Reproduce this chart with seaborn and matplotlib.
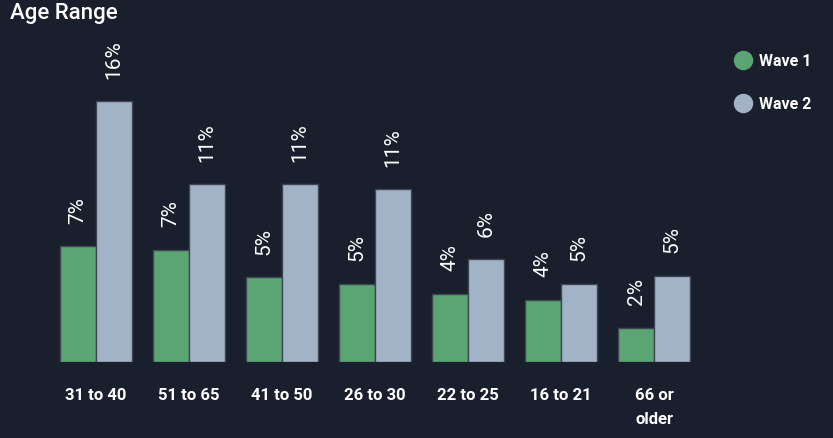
import matplotlib
matplotlib.use("Agg")
import matplotlib.pyplot as plt
from matplotlib.lines import Line2D
import seaborn as sns
import pandas as pd

categories = ["31 to 40", "51 to 65", "41 to 50", "26 to 30", "22 to 25", "16 to 21", "66 or\nolder"]
wave1 = [7.1, 6.9, 5.2, 4.8, 4.2, 3.8, 2.1]
wave2 = [16.0, 10.9, 10.9, 10.6, 6.3, 4.8, 5.3]
series = ["Wave 1", "Wave 2"]
colors = ["#5ba572", "#a3b3c7"]

bg = "#1a1f2e"
df = pd.DataFrame({
    "Age": categories * 2,
    "Value": wave1 + wave2,
    "Wave": [series[0]] * len(categories) + [series[1]] * len(categories),
})

sns.set_theme(style="dark")
plt.rcParams["font.family"] = ["Roboto", "DejaVu Sans"]

fig = plt.figure(figsize=(8.33, 4.39), dpi=100, facecolor=bg)
ax = fig.add_axes([49.5 / 833, 76 / 439, 651 / 833, 333 / 439])
ax.set_facecolor(bg)

sns.barplot(data=df, x="Age", y="Value", hue="Wave", palette=colors, width=0.774,
            edgecolor="#3e4553", linewidth=1, ax=ax, legend=False, saturation=1)

for cont in ax.containers:
    ax.bar_label(cont, labels=[f"{v:.0f}%" for v in cont.datavalues], rotation=90,
                 padding=17, color="white", fontsize=15)

ax.set_ylim(0, 333 / 16.3)
ax.set_xlim(-0.5, 6.5)
ax.set_xlabel("")
ax.set_ylabel("")
ax.set_yticks([])
ax.tick_params(axis="x", length=0, colors="white", labelsize=12, pad=18)
for lbl in ax.get_xticklabels():
    lbl.set_fontweight("bold")
    lbl.set_linespacing(1.75)
for s in ax.spines.values():
    s.set_visible(False)
ax.grid(False)

fig.text(10 / 833, 1 - 14 / 439, "Age Range", color="white", fontsize=16,
         fontweight="medium", va="center", ha="left")

handles = [Line2D([0], [0], marker="o", linestyle="", markersize=13,
                  markerfacecolor=c, markeredgecolor=c) for c in colors]
leg = fig.legend(handles, series, loc="upper left", bbox_to_anchor=(713 / 833, 1 - 40 / 439),
                 frameon=False, labelcolor="white", handletextpad=0.0,
                 labelspacing=1.75, prop={"size": 11.5, "weight": "bold"})

fig.savefig("out.png", dpi=100, facecolor=bg)
